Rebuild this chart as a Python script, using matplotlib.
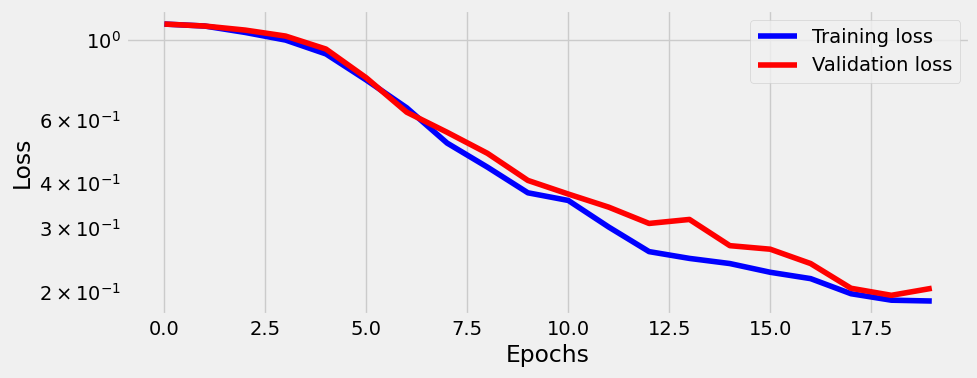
import matplotlib
matplotlib.use("Agg")
import matplotlib.pyplot as plt

# loss values per epoch
epochs = list(range(20))
train_loss = [1.108, 1.094, 1.05, 1.0, 0.915, 0.774, 0.648, 0.517, 0.443, 0.376,
              0.358, 0.302, 0.258, 0.247, 0.239, 0.226, 0.217, 0.197, 0.189, 0.188]
val_loss = [1.108, 1.094, 1.066, 1.026, 0.944, 0.785, 0.630, 0.554, 0.484, 0.407,
            0.373, 0.343, 0.309, 0.317, 0.268, 0.262, 0.239, 0.204, 0.195, 0.204]

plt.style.use("fivethirtyeight")

fig, ax = plt.subplots(figsize=(9.77, 3.78), dpi=100)
fig.patch.set_facecolor("#f0f0f0")
ax.plot(epochs, train_loss, color="blue", label="Training loss")
ax.plot(epochs, val_loss, color="red", label="Validation loss")
ax.set_yscale("log")
ax.set_xlabel("Epochs")
ax.set_ylabel("Loss")
ax.legend(loc="upper right")

fig.subplots_adjust(left=0.129, right=0.993, bottom=0.167, top=0.973)
fig.savefig("out.png")
